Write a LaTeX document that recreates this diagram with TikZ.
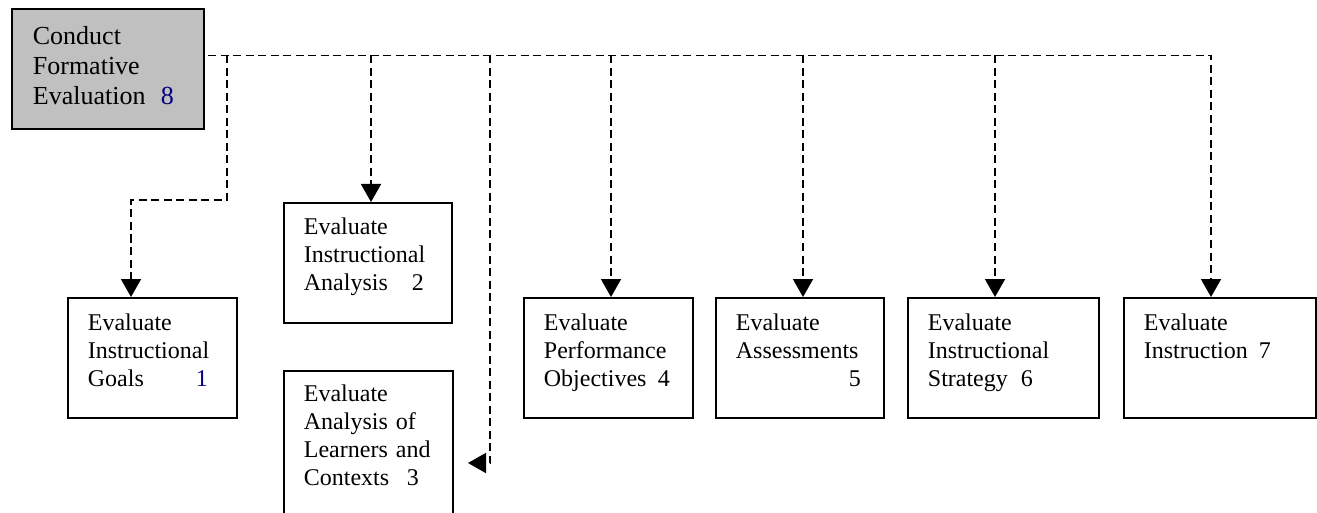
\documentclass[tikz,border=0pt]{standalone}
\usepackage{fontspec}
\setmainfont{Liberation Serif}
\usetikzlibrary{arrows.meta}
\definecolor{boxgray}{RGB}{192,192,192}
\definecolor{numblue}{RGB}{0,0,128}
\newcommand{\numln}[3]{\makebox[#1pt][l]{#2\hfill#3}}
\begin{document}
\begin{tikzpicture}[x=1pt,y=-1pt,
  evbox/.style={draw=black, line width=1.8pt, anchor=north west, inner xsep=20pt,
    inner ysep=0pt, align=left, font=\fontsize{24}{28}\selectfont},
  dl/.style={line width=1.7pt, dash pattern=on 8pt off 4.5pt,
    -{Triangle[width=20pt,length=18pt]}}]
\useasboundingbox (0,0) rectangle (1317,513);

\node[evbox, fill=boxgray, inner xsep=21pt, text width=150pt, text height=36pt,
  text depth=84pt, font=\fontsize{26}{30}\selectfont] (top) at (11,8)
  {Conduct\\Formative\\\numln{141}{Evaluation}{\textcolor{numblue}{8}}};

\node[evbox, text width=129pt, text height=33pt, text depth=87pt] (b1) at (67,297)
  {Evaluate\\Instructional\\\numln{120}{Goals}{\textcolor{numblue}{1}}};
\node[evbox, text width=128pt, text height=32pt, text depth=88pt] (b2) at (283,202)
  {Evaluate\\Instructional\\\numln{120}{Analysis}{2}};
\node[evbox, text width=129pt, text height=31pt, text depth=119pt] (b3) at (283,370)
  {Evaluate\\Analysis of\\Learners and\\\numln{115}{Contexts}{3}};
\node[evbox, text width=129pt, text height=33pt, text depth=87pt] (b4) at (523,297)
  {Evaluate\\Performance\\\numln{126}{Objectives}{4}};
\node[evbox, text width=128pt, text height=33pt, text depth=87pt] (b5) at (715,297)
  {Evaluate\\Assessments\\\makebox[125pt][r]{5}};
\node[evbox, text width=151pt, text height=33pt, text depth=87pt] (b6) at (907,297)
  {Evaluate\\Instructional\\\numln{105}{Strategy}{6}};
\node[evbox, text width=152pt, text height=33pt, text depth=87pt] (b7) at (1123,297)
  {Evaluate\\\numln{127}{Instruction}{7}};

\coordinate (t0) at (208,55.5);
\coordinate (k1) at (227,200);
\coordinate (p1) at ([xshift=64pt]b1.north west);
\coordinate (p2) at ([xshift=88pt]b2.north west);
\coordinate (k3) at (490,463);
\coordinate (a3) at (468,463);
\coordinate (p4) at ([xshift=88pt]b4.north west);
\coordinate (p5) at ([xshift=88pt]b5.north west);
\coordinate (p6) at ([xshift=88pt]b6.north west);
\coordinate (p7) at ([xshift=88pt]b7.north west);

\draw[dl] (t0) -| (p7);
\draw[dl] (k1 |- t0) -- (k1) -| (p1);
\draw[dl] (p2 |- t0) -- (p2);
\draw[dl] (k3 |- t0) -- (k3) -- (a3);
\draw[dl] (p4 |- t0) -- (p4);
\draw[dl] (p5 |- t0) -- (p5);
\draw[dl] (p6 |- t0) -- (p6);
\end{tikzpicture}
\end{document}
